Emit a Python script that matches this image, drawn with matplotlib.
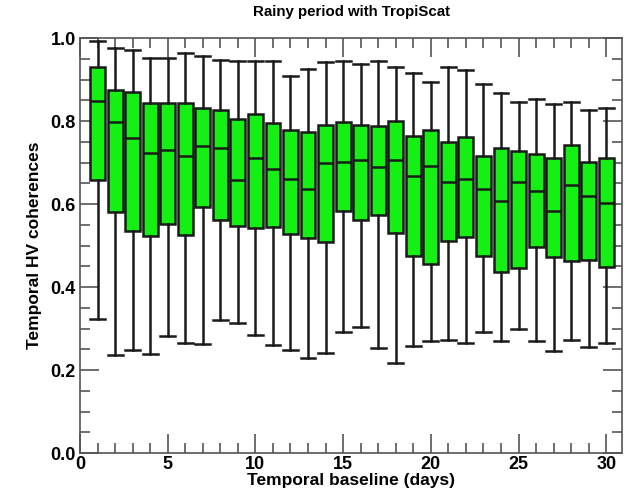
import numpy as np
import matplotlib
matplotlib.use("Agg")
from matplotlib import pyplot as plt
from matplotlib.ticker import MultipleLocator, FormatStrFormatter

# Temporal baseline (days)
days = list(range(1, 31))
# Box plot statistics
whisker_high = [0.993, 0.976, 0.972, 0.953, 0.953, 0.964, 0.957, 0.947, 0.945, 0.944,
                0.944, 0.909, 0.925, 0.941, 0.944, 0.937, 0.944, 0.931, 0.915, 0.895,
                0.931, 0.923, 0.888, 0.867, 0.847, 0.853, 0.841, 0.845, 0.827, 0.831]
q3 = [0.929, 0.875, 0.871, 0.843, 0.843, 0.843, 0.832, 0.827, 0.805, 0.818,
      0.795, 0.778, 0.773, 0.790, 0.797, 0.791, 0.787, 0.801, 0.765, 0.779,
      0.749, 0.762, 0.715, 0.735, 0.728, 0.720, 0.710, 0.742, 0.702, 0.712]
medians = [0.849, 0.797, 0.759, 0.722, 0.730, 0.716, 0.739, 0.735, 0.659, 0.710,
           0.684, 0.660, 0.636, 0.698, 0.702, 0.707, 0.688, 0.707, 0.667, 0.691,
           0.652, 0.660, 0.636, 0.608, 0.652, 0.631, 0.584, 0.647, 0.620, 0.602]
q1 = [0.658, 0.580, 0.536, 0.524, 0.553, 0.526, 0.594, 0.562, 0.548, 0.542,
      0.544, 0.528, 0.517, 0.508, 0.582, 0.562, 0.573, 0.529, 0.475, 0.455,
      0.510, 0.520, 0.474, 0.435, 0.445, 0.496, 0.472, 0.462, 0.465, 0.449]
whisker_low = [0.323, 0.237, 0.248, 0.238, 0.283, 0.265, 0.263, 0.321, 0.313, 0.284,
               0.260, 0.249, 0.228, 0.240, 0.292, 0.304, 0.252, 0.217, 0.257, 0.271,
               0.273, 0.265, 0.291, 0.269, 0.300, 0.269, 0.247, 0.273, 0.256, 0.264]

plt.rcParams['font.family'] = ['Liberation Sans', 'DejaVu Sans']
plt.rcParams['font.weight'] = 'bold'


def main():
    fig = plt.figure(figsize=(6.29, 4.93), dpi=100)
    ax = fig.add_axes([0.1272, 0.0811, 0.8617, 0.8418])

    stats = []
    for i in range(len(days)):
        stats.append({
            "whislo": whisker_low[i], "q1": q1[i], "med": medians[i],
            "q3": q3[i], "whishi": whisker_high[i], "fliers": [],
        })

    edge = "#1a1a1a"
    ax.bxp(stats, positions=days, widths=0.85, patch_artist=True,
           showfliers=False, capwidths=0.85,
           boxprops=dict(facecolor="#14f014", edgecolor=edge, linewidth=1.8),
           medianprops=dict(color=edge, linewidth=1.8),
           whiskerprops=dict(color=edge, linewidth=1.8),
           capprops=dict(color=edge, linewidth=1.8))

    ax.set_xlim(0, 30.9)
    ax.set_ylim(0, 1.0)
    ax.xaxis.set_major_locator(MultipleLocator(5))
    ax.xaxis.set_minor_locator(MultipleLocator(1))
    ax.yaxis.set_major_locator(MultipleLocator(0.2))
    ax.yaxis.set_minor_locator(MultipleLocator(0.05))
    ax.xaxis.set_major_formatter(FormatStrFormatter("%d"))
    ax.yaxis.set_major_formatter(FormatStrFormatter("%.1f"))
    ax.tick_params(which="both", direction="in", top=True, right=True,
                   color="#555555", labelsize=13)
    ax.tick_params(which="major", length=14, width=1.2)
    ax.tick_params(which="minor", length=7, width=1.2)
    ax.tick_params(axis="x", which="major", pad=2)
    ax.tick_params(axis="y", which="major", pad=3)
    for s in ax.spines.values():
        s.set_color("#555555")
        s.set_linewidth(1.2)

    ax.set_xlabel("Temporal baseline (days)", fontsize=12.5, fontweight="bold", labelpad=0)
    ax.set_ylabel("Temporal HV coherences", fontsize=12.5, fontweight="bold", labelpad=6)
    ax.set_title("Rainy period with TropiScat", fontsize=10.8, fontweight="bold", pad=16)

    fig.savefig("out.png", dpi=100)


if __name__ == '__main__':
    main()
